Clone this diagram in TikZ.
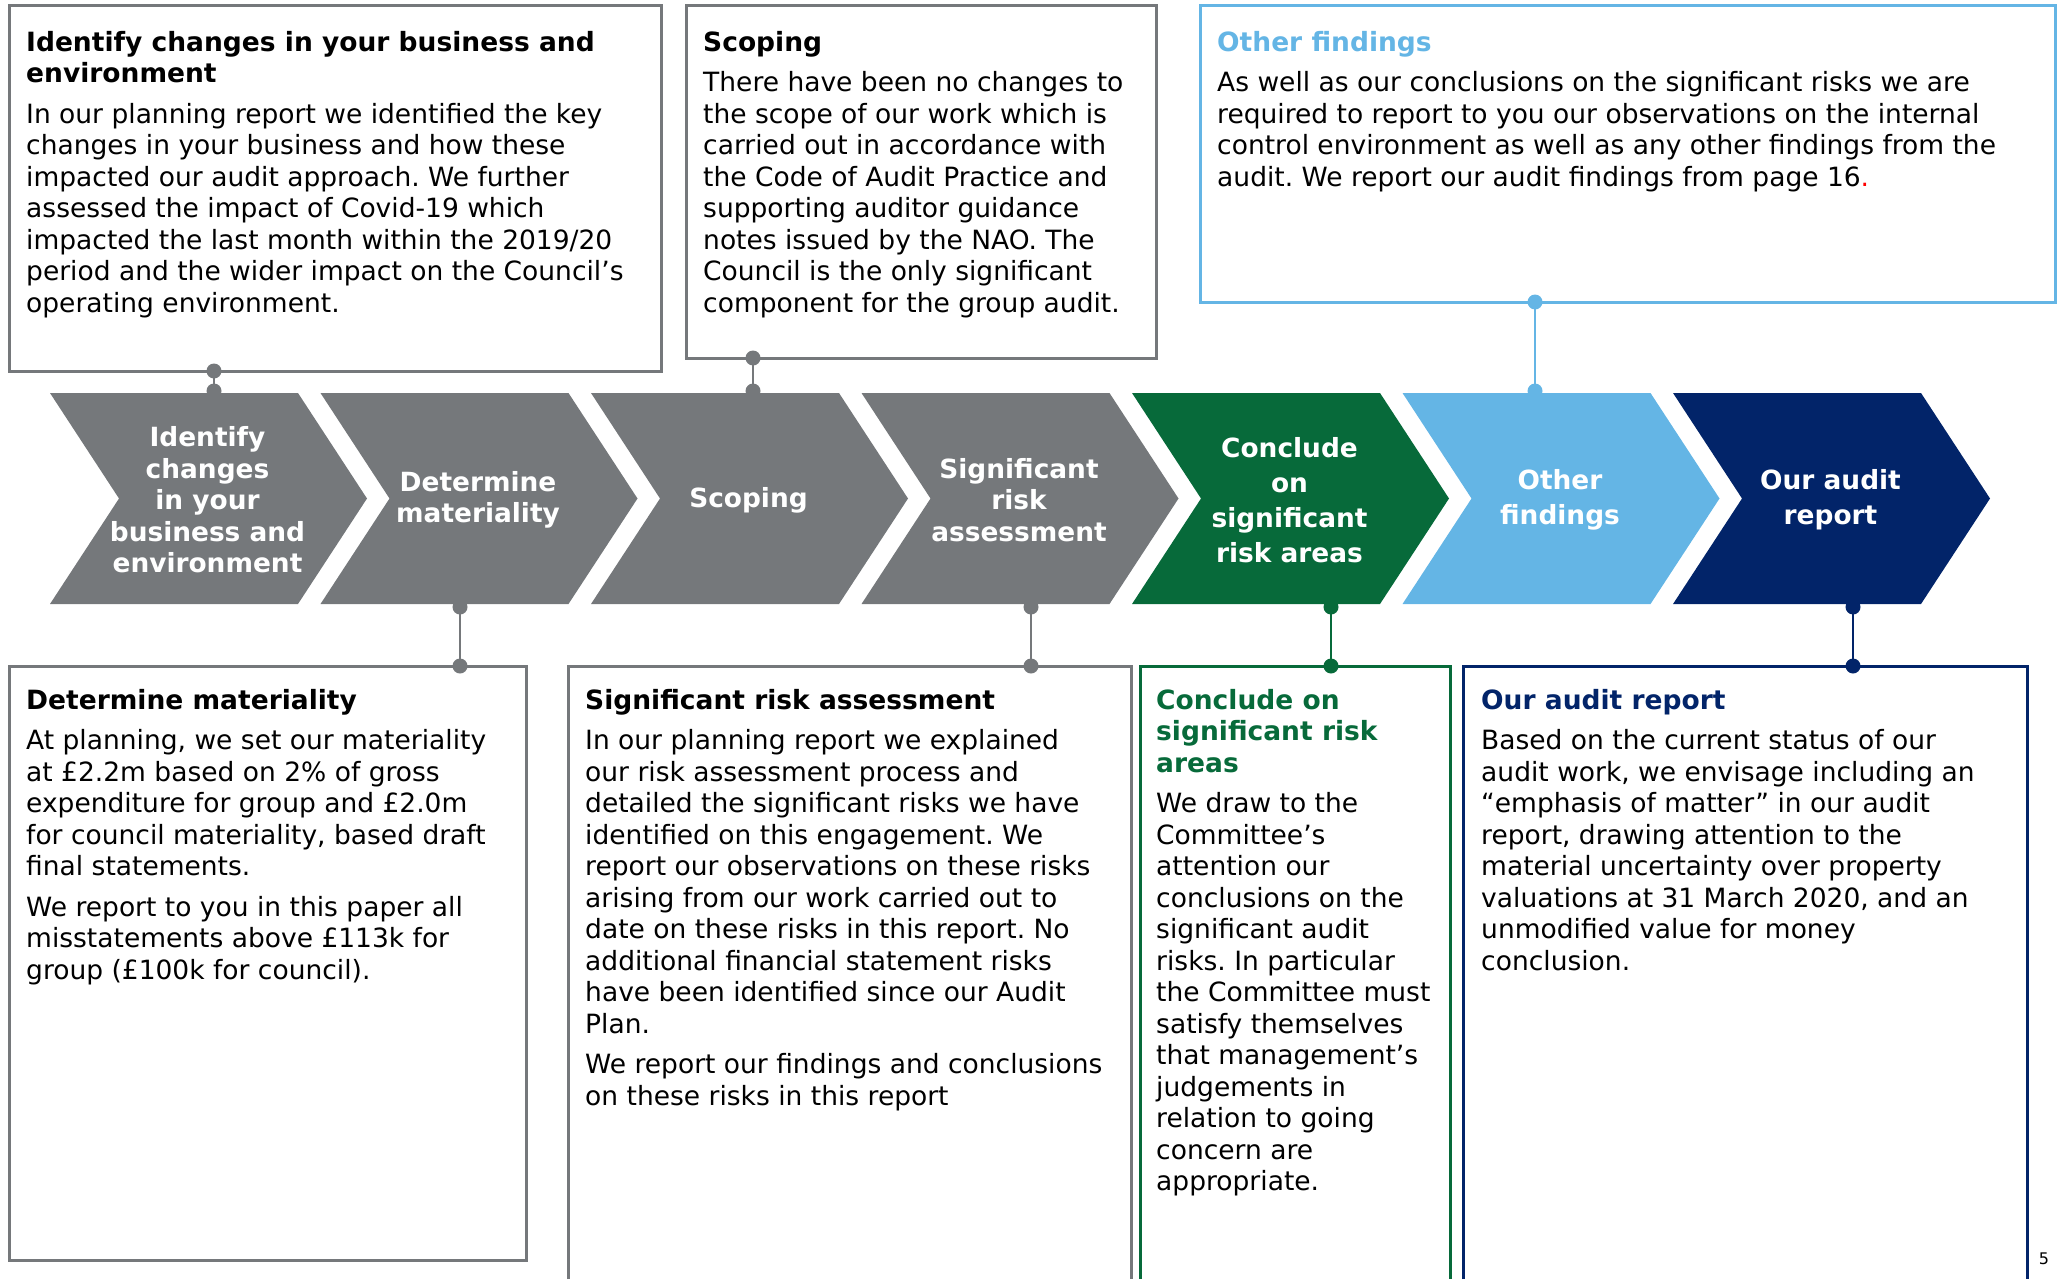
\documentclass[tikz,border=0pt]{standalone}
\usepackage{fontspec}
\setmainfont{DejaVu Sans}
\usepackage{tikz}
\frenchspacing
\definecolor{auditgray}{HTML}{75787B}
\definecolor{auditgreen}{HTML}{076A3A}
\definecolor{auditblue}{HTML}{64B5E5}
\definecolor{auditnavy}{HTML}{022469}

\begin{document}
\begin{tikzpicture}[x=1pt, y=-1pt,
    stagetxt/.style={text=white, align=center, inner sep=0pt},
    boxtxt/.style={anchor=north west, align=left, inner sep=0pt, font=\fontsize{26.5}{31.5}\selectfont},
    frame/.style={line width=3pt},
    link/.style={line width=2.8pt}]
        \useasboundingbox (0,0) rectangle (2060,1279);
        \foreach \i/\col/\nm/\txt/\lsk in {
            0/auditgray/sIdentify/{Identify\\changes\\in your\\business and\\environment}/31.5,
            1/auditgray/sMaterial/{Determine\\materiality}/31.5,
            2/auditgray/sScoping/{Scoping}/31.5,
            3/auditgray/sRisk/{Significant\\risk\\assessment}/31.5,
            4/auditgreen/sConclude/{Conclude\\on\\significant\\risk areas}/35,
            5/auditblue/sOther/{Other\\findings}/35,
            6/auditnavy/sReport/{Our audit\\report}/35}
        {
            \fill[\col] ({50+270.5*\i},393) -- ++(248,0) -- ++(69,105.5) -- ++(-69,105.5) -- ++(-248,0) -- ++(69,-105.5) -- cycle;
            \node[stagetxt, font=\fontsize{26.4}{\lsk}\selectfont\bfseries] (\nm) at ({207.5+270.5*\i},500) {\txt};
        }
        \draw[frame, auditgray] (9,6) rectangle (661,371);
        \draw[frame, auditgray] (686,6) rectangle (1156,358);
        \draw[frame, auditblue] (1200,6) rectangle (2055,302);
        \draw[frame, auditgray] (9,666) rectangle (526,1260);
        \draw[frame, auditgray] (568,1279) |- (1131,666) -- (1131,1279);
        \draw[frame, auditgreen] (1140,1279) |- (1450,666) -- (1450,1279);
        \draw[frame, auditnavy] (1463,1279) |- (2027,666) -- (2027,1279);
        \foreach \nm/\col/\xa/\ya/\yb in {Identify/auditgray/214/371/391, Scoping/auditgray/753/358/391, Other/auditblue/1535/302/391,
            Material/auditgray/460/666/607, Risk/auditgray/1031/666/607, Conclude/auditgreen/1331/666/607, Report/auditnavy/1853/666/607}
        {
            \coordinate (a\nm) at (\xa,\ya);
            \coordinate (b\nm) at (\xa,\yb);
            \draw[link, \col] (a\nm) -- (b\nm);
            \fill[\col] (a\nm) circle (7.5pt) (b\nm) circle (7.5pt);
        }
        \node[boxtxt] (tIdentify) at (26,31) {\textbf{Identify changes in your business and}\\\textbf{environment}\\[9pt]
            In our planning report we identified the key\\changes in your business and how these\\impacted our audit approach. We further\\assessed the impact of Covid-19 which\\impacted the last month within the 2019/20\\period and the wider impact on the Council’s\\operating environment.};
        \node[boxtxt] (tScoping) at (703,31) {\textbf{Scoping}\\[9pt]
            There have been no changes to\\the scope of our work which is\\carried out in accordance with\\the Code of Audit Practice and\\supporting auditor guidance\\notes issued by the NAO. The\\Council is the only significant\\component for the group audit.};
        \node[boxtxt] (tOther) at (1217,31) {\textcolor{auditblue}{\textbf{Other findings}}\\[9pt]
            As well as our conclusions on the significant risks we are\\required to report to you our observations on the internal\\control environment as well as any other findings from the\\audit. We report our audit findings from page 16\textcolor{red}{.}};
        \node[boxtxt] (tMaterial) at (26,689) {\textbf{Determine materiality}\\[9pt]
            At planning, we set our materiality\\at £2.2m based on 2\% of gross\\expenditure for group and £2.0m\\for council materiality, based draft\\final statements.\\[9pt]
            We report to you in this paper all\\misstatements above £113k for\\group (£100k for council).};
        \node[boxtxt] (tRisk) at (585,689) {\textbf{Significant risk assessment}\\[9pt]
            In our planning report we explained\\our risk assessment process and\\detailed the significant risks we have\\identified on this engagement. We\\report our observations on these risks\\arising from our work carried out to\\date on these risks in this report. No\\additional financial statement risks\\have been identified since our Audit\\Plan.\\[9pt]
            We report our findings and conclusions\\on these risks in this report};
        \node[boxtxt] (tConclude) at (1156,689) {\textcolor{auditgreen}{\textbf{Conclude on}}\\\textcolor{auditgreen}{\textbf{significant risk}}\\\textcolor{auditgreen}{\textbf{areas}}\\[9pt]
            We draw to the\\Committee’s\\attention our\\conclusions on the\\significant audit\\risks. In particular\\the Committee must\\satisfy themselves\\that management’s\\judgements in\\relation to going\\concern are\\appropriate.};
        \node[boxtxt] (tReport) at (1481,689) {\textcolor{auditnavy}{\textbf{Our audit report}}\\[9pt]
            Based on the current status of our\\audit work, we envisage including an\\“emphasis of matter” in our audit\\report, drawing attention to the\\material uncertainty over property\\valuations at 31 March 2020, and an\\unmodified value for money\\conclusion.};
        \node[font=\fontsize{16}{19}\selectfont, inner sep=0pt] (pageno) at (2044,1259) {5};
\end{tikzpicture}
\end{document}
